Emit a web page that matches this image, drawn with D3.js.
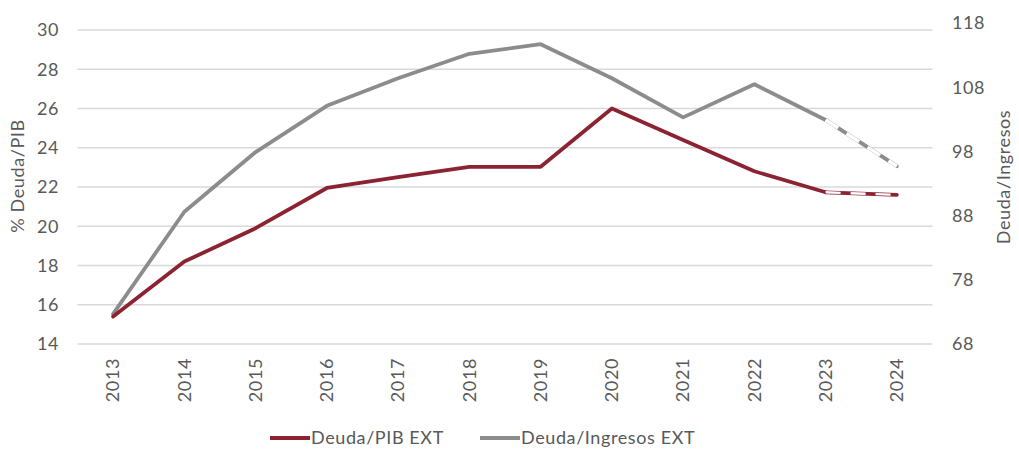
<!DOCTYPE html>
<head>
<meta charset="utf-8">
<style>
  html,body {
    margin: 0;
    background: #fff;
    font-family: Lato, "Open Sans", sans-serif;
  }
  text { fill: #595959; letter-spacing: 0.6px; }
</style>
<script src="https://d3js.org/d3.v7.min.js"></script>
</head>
<body>
<div id="chart"></div>
<script>
// data
var years = ["2013","2014","2015","2016","2017","2018","2019","2020","2021","2022","2023","2024"];
var deudaPib = [15.4, 18.2, 19.9, 21.95, 22.5, 23.03, 23.03, 26.0, 24.4, 22.8, 21.73, 21.6];
var deudaIngresos = [72.7, 88.6, 97.9, 105.1, 109.4, 113.2, 114.7, 109.4, 103.3, 108.45, 102.9, 95.7];
var leftTicks = [14, 16, 18, 20, 22, 24, 26, 28, 30];
var rightTicks = [68, 78, 88, 98, 108, 118];
var dashedFrom = 10; // 2023 -> 2024 drawn dashed (estimates)

var maroon = "#8c2332", grey = "#8c8c8c";
var fs = "18px";

var width = 1019, height = 453;
var svg = d3.select("#chart").append("svg")
  .attr("width", width).attr("height", height);

var x = d3.scaleBand().domain(years).range([77.5, 932.5]);
var yL = d3.scaleLinear().domain([14, 30]).range([344, 30]);
var yR = d3.scaleLinear().domain([68, 118]).range([344, 23]);

// gridlines
svg.append("g").selectAll("line")
  .data(leftTicks).enter().append("line")
    .attr("x1", 77.5).attr("x2", 932.5)
    .attr("y1", function(d){ return yL(d); })
    .attr("y2", function(d){ return yL(d); })
    .style("stroke", "#d9d9d9").style("stroke-width", 1.3);

// left axis labels
svg.append("g").selectAll("text")
  .data(leftTicks).enter().append("text")
    .attr("x", 59).attr("y", function(d){ return yL(d); })
    .attr("dy", "0.35em").attr("text-anchor", "end")
    .attr("font-size", fs).text(function(d){ return d; });

// right axis labels
svg.append("g").selectAll("text")
  .data(rightTicks).enter().append("text")
    .attr("x", 952).attr("y", function(d){ return yR(d); })
    .attr("dy", "0.35em").attr("text-anchor", "start")
    .attr("font-size", fs).text(function(d){ return d; });

// x labels, rotated
svg.append("g").selectAll("text")
  .data(years).enter().append("text")
    .attr("transform", function(d){
      return "translate(" + (x(d) + x.bandwidth()/2) + ",358) rotate(-90)";
    })
    .attr("dy", "0.35em").attr("text-anchor", "end")
    .attr("font-size", fs).text(function(d){ return d; });

// axis titles
svg.append("text")
  .attr("transform", "translate(18,176) rotate(-90)")
  .attr("dy", "0.35em").attr("text-anchor", "middle")
  .attr("font-size", fs).text("% Deuda/PIB");
svg.append("text")
  .attr("transform", "translate(1004,177) rotate(-90)")
  .attr("dy", "0.35em").attr("text-anchor", "middle")
  .attr("font-size", fs).text("Deuda/Ingresos");

var cx = function(i){ return x(years[i]) + x.bandwidth()/2; };

const drawSeries = (values, y, color, whiteW) => {
  var pts = values.map(function(v, i){ return [cx(i), y(v)]; });
  var line = d3.line();
  svg.append("path")
    .attr("d", line(pts.slice(0, dashedFrom + 1)))
    .style("fill", "none").style("stroke", color)
    .style("stroke-width", 3.8).style("stroke-linejoin", "round")
    .style("stroke-linecap", "round");
  // last segment: coloured line with white dashes on top
  var tail = pts.slice(dashedFrom);
  svg.append("path")
    .attr("d", line(tail))
    .style("fill", "none").style("stroke", color)
    .style("stroke-width", 3.8).style("stroke-linecap", "round");
  svg.append("path")
    .attr("d", line(tail))
    .style("fill", "none").style("stroke", "#fff")
    .style("stroke-width", whiteW)
    .style("stroke-dasharray", "15,10");
};

drawSeries(deudaIngresos, yR, grey, 3.6);
drawSeries(deudaPib, yL, maroon, 2.4);

// legend
var legend = [
  {name: "Deuda/PIB EXT", color: maroon, x: 270},
  {name: "Deuda/Ingresos EXT", color: grey, x: 480}
];
var lg = svg.append("g").selectAll("g").data(legend).enter().append("g");
lg.append("line")
  .attr("x1", function(d){ return d.x; }).attr("x2", function(d){ return d.x + 40; })
  .attr("y1", 438).attr("y2", 438)
  .style("stroke", function(d){ return d.color; }).style("stroke-width", 3.8);
lg.append("text")
  .attr("x", function(d){ return d.x + 41; }).attr("y", 438)
  .attr("dy", "0.35em").attr("font-size", fs)
  .text(function(d){ return d.name; });
</script>
</body>
</html>
